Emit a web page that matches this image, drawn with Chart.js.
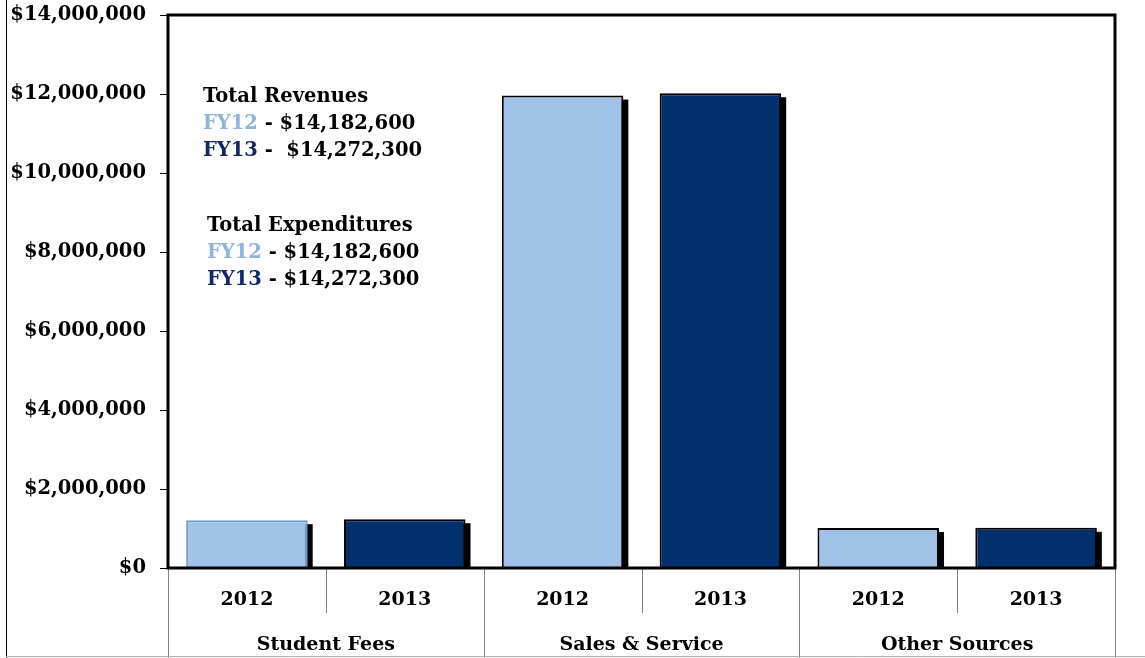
<!DOCTYPE html>
<html>
<head>
<meta charset="utf-8">
<script src="https://cdn.jsdelivr.net/npm/chart.js@4.4.0/dist/chart.umd.min.js"></script>
<style>
  html, body { margin: 0; padding: 0; background: #fff; }
</style>
</head>
<body>
<canvas id="chart_bar" width="1145" height="658"></canvas>
<script>
// Data
var groups = ["Student Fees", "Sales & Service", "Other Sources"]
var years = ["2012", "2013"]
var fy12_values = [1210000, 11960000, 1012600]
var fy13_values = [1235000, 12020000, 1017300]
var y_min = 0, y_max = 14000000, y_step = 2000000

var light = "#a0c2e8"
var dark = "#00306e"
var font = "'DejaVu Serif', 'Liberation Serif', serif"

// one bar per (group, year)
var bar_labels = [], bar_values = [], bar_colors = [], bar_borders = []
groups.forEach(function (g, i) {
  bar_labels.push(years[0], years[1])
  bar_values.push(fy12_values[i], fy13_values[i])
  bar_colors.push(light, dark)
  bar_borders.push(i == 0 ? "#6f9dd2" : "#000", "#000")
})

function money(v) { return "$" + v.toLocaleString("en-US") }
function sum(a) { return a.reduce(function (s, v) { return s + v }, 0) }

var total12 = money(sum(fy12_values))
var total13 = money(sum(fy13_values))

// text block in the upper left: [x, y, [[text, color], ...]]
var notes = [
  [203, 97, [["Total Revenues", "#000"]]],
  [203, 124, [["FY12", "#8db4e2"], [" - " + total12, "#000"]]],
  [203, 151, [["FY13", "#0f2a6b"], [" -  " + total13, "#000"]]],
  [207, 226, [["Total Expenditures", "#000"]]],
  [207, 253, [["FY12", "#8db4e2"], [" - " + total12, "#000"]]],
  [207, 280, [["FY13", "#0f2a6b"], [" - " + total13, "#000"]]]
]

// black drop shadow behind each bar, taken from the bar elements
var barShadow = {
  id: "barShadow",
  beforeDatasetsDraw: function (chart) {
    var c = chart.ctx, a = chart.chartArea
    c.save()
    c.beginPath()
    c.rect(a.left, a.top, a.right - a.left, a.bottom - a.top)
    c.clip()
    c.fillStyle = "#000"
    chart.getDatasetMeta(0).data.forEach(function (bar) {
      var p = bar.getProps(["x", "y", "base", "width"], true)
      var left = p.x - p.width / 2
      c.fillRect(left + 5, p.y + 4, p.width, p.base - p.y)
    })
    c.restore()
  }
}

var frame = {
  id: "frame",
  afterDraw: function (chart) {
    var c = chart.ctx, a = chart.chartArea, xs = chart.scales.x
    var H = chart.height
    c.save()
    // separators under the axis
    c.strokeStyle = "#808080"
    c.lineWidth = 1
    function edge(i) {
      if (i <= 0) return a.left
      if (i >= bar_labels.length) return a.right
      return (xs.getPixelForValue(i - 1) + xs.getPixelForValue(i)) / 2
    }
    for (var i = 0; i <= bar_labels.length; i++) {
      var x = Math.round(edge(i)) + 0.5
      var yEnd = (i % 2 == 0) ? H : a.bottom + 45
      c.beginPath(); c.moveTo(x, a.bottom); c.lineTo(x, yEnd); c.stroke()
    }
    // outer frame lines
    c.strokeStyle = "#000"
    c.beginPath(); c.moveTo(6.5, 0); c.lineTo(6.5, H); c.stroke()
    c.strokeStyle = "#b0b0b0"
    c.beginPath(); c.moveTo(6, H - 1.5); c.lineTo(chart.width, H - 1.5); c.stroke()
    // plot frame
    c.strokeStyle = "#000"
    c.lineWidth = 3
    c.strokeRect(a.left, a.top, a.right - a.left, a.bottom - a.top)
    // totals text
    c.font = "bold 19.5px " + font
    c.textBaseline = "middle"
    c.textAlign = "left"
    notes.forEach(function (n) {
      var x = n[0]
      n[2].forEach(function (seg) {
        c.fillStyle = seg[1]
        c.fillText(seg[0], x, n[1])
        x += c.measureText(seg[0]).width
      })
    })
    c.restore()
  }
}

var config = {
  type: "bar",
  data: {
    labels: bar_labels,
    datasets: [{
      data: bar_values,
      backgroundColor: bar_colors,
      borderColor: bar_borders,
      borderWidth: 2,
      barPercentage: 0.77,
      categoryPercentage: 1,
      clip: 0
    }]
  },
  options: {
    responsive: false,
    devicePixelRatio: 1,
    animation: false,
    layout: { padding: { left: 0, top: 15, right: 30, bottom: 0 } },
    plugins: {
      legend: { display: false },
      tooltip: { enabled: false }
    },
    scales: {
      y: {
        min: y_min, max: y_max,
        afterFit: function (s) {
          s.width = 168
          s.paddingTop = 0
          s.paddingBottom = 0
        },
        ticks: {
          stepSize: y_step,
          padding: 14,
          color: "#000",
          font: { family: font, size: 19.5, weight: "bold" },
          callback: function (v) { return money(v) }
        },
        grid: { drawOnChartArea: false, drawTicks: true, tickLength: 8, color: "#000" },
        border: { display: false }
      },
      x: {
        weight: 0,
        afterFit: function (s) { s.height = 45 },
        ticks: {
          padding: 21,
          color: "#000",
          maxRotation: 0,
          font: { family: font, size: 19, weight: "bold" }
        },
        grid: { display: false, drawTicks: false },
        border: { display: false }
      },
      x2: {
        type: "category",
        position: "bottom",
        weight: 1,
        labels: groups,
        offset: true,
        afterFit: function (s) { s.height = 45 },
        ticks: {
          padding: 21,
          color: "#000",
          maxRotation: 0,
          font: { family: font, size: 19, weight: "bold" }
        },
        grid: { display: false, drawTicks: false },
        border: { display: false }
      }
    }
  },
  plugins: [barShadow, frame]
}

var ctx = document.getElementById("chart_bar")
var ch_bar = new Chart(ctx, config)
</script>
</body>
</html>
